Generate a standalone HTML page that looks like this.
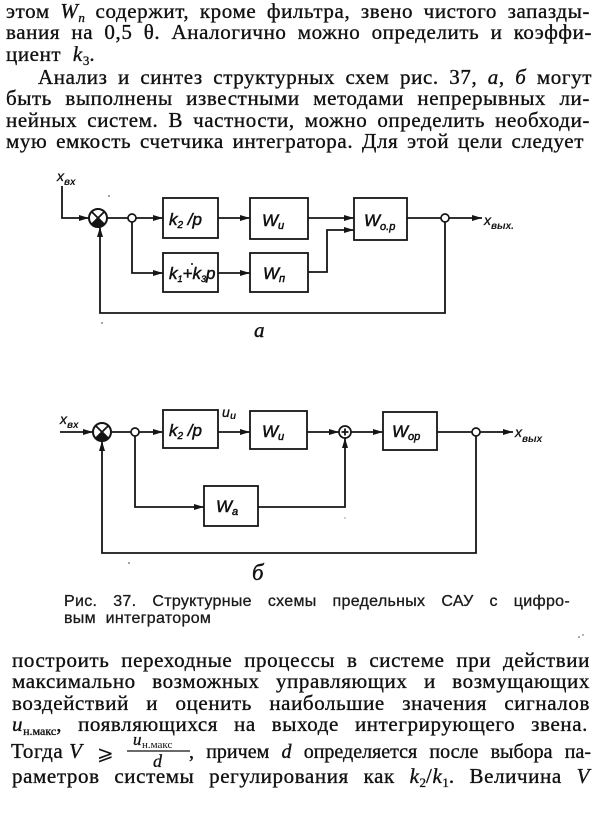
<!DOCTYPE html>
<html>
<head>
<meta charset="utf-8">
<style>
  html, body { margin:0; padding:0; }
  body { width:600px; height:817px; background:#fff; position:relative; overflow:hidden; color:#111; }
  .t { position:absolute; font-family:"Liberation Serif", "DejaVu Serif", serif; font-size:21px; line-height:21px;
       letter-spacing:0.6px; text-align:justify; text-align-last:justify; color:#111; -webkit-text-stroke:0.35px #111; }
  .l { text-align:left; text-align-last:left; }
  .sub { font-size:13px; position:relative; top:4px; line-height:0; letter-spacing:0; }
  i { font-style:italic; }
  .cap { position:absolute; font-family:"Liberation Sans", "DejaVu Sans", sans-serif; font-size:16px; line-height:16px;
         letter-spacing:0.3px; text-align:justify; text-align-last:justify; color:#1a1a1a; -webkit-text-stroke:0.3px #1a1a1a; }
  svg { position:absolute; left:0; top:0; }
  .ln { fill:none; stroke:#151515; stroke-width:1.8; }
  .bx { fill:none; stroke:#151515; stroke-width:1.8; }
  .lbl { font-family:"Liberation Sans", "DejaVu Sans", sans-serif; font-style:italic; font-size:17px; fill:#111; stroke:#111; stroke-width:0.5; }
  .sm { font-family:"Liberation Sans", "DejaVu Sans", sans-serif; font-style:italic; font-size:14px; fill:#111; stroke:#111; stroke-width:0.3; }
  .ss { font-family:"Liberation Sans", "DejaVu Sans", sans-serif; font-style:italic; font-weight:bold; font-size:10px; fill:#111; }
</style>
</head>
<body>

<!-- top paragraph -->
<div class="t" style="left:6px; top:1px; width:584px;">этом <i>W</i><span class="sub"><i>n</i></span> содержит, кроме фильтра, звено чистого запазды-</div>
<div class="t" style="left:6px; top:22px; width:586px;">вания на 0,5 θ. Аналогично можно определить и коэффи-</div>
<div class="t l" style="left:6px; top:44px; width:200px;">циент&nbsp; <i>k</i><span class="sub">3</span>.</div>
<div class="t" style="left:38px; top:67px; width:554px;">Анализ и синтез структурных схем рис. 37, <i>а</i>, <i>б</i> могут</div>
<div class="t" style="left:6px; top:88px; width:584px;">быть выполнены известными методами непрерывных ли-</div>
<div class="t" style="left:6px; top:110px; width:584px;">нейных систем. В частности, можно определить необходи-</div>
<div class="t" style="left:6px; top:131px; width:578px;">мую емкость счетчика интегратора. Для этой цели следует</div>

<svg width="600" height="817" viewBox="0 0 600 817">
  <defs>
    <marker id="ar" markerWidth="10" markerHeight="6" refX="10" refY="3" orient="auto" markerUnits="userSpaceOnUse">
      <path d="M0,0 L10,3 L0,6 z" fill="#151515"/>
    </marker>
  </defs>

  <!-- ============ Diagram a ============ -->
  <text x="57" y="181" class="sm">x</text>
  <text x="64" y="185" class="ss">вх</text>
  <path class="ln" d="M62,186 V218 H89" marker-end="url(#ar)"/>
  <circle cx="98" cy="218" r="9" fill="#fff" stroke="#151515" stroke-width="2"/>
  <path d="M98,218 L104.4,224.4 A9,9 0 0,1 91.6,224.4 Z" fill="#151515"/>
  <path class="ln" d="M91.6,211.6 L104.4,224.4 M104.4,211.6 L91.6,224.4"/>
  <path class="ln" d="M107,218 H128"/>
  <circle cx="132" cy="218" r="4" fill="#fff" stroke="#151515" stroke-width="1.7"/>
  <path class="ln" d="M136,218 H163" marker-end="url(#ar)"/>
  <rect class="bx" x="163" y="198" width="55" height="40"/>
  <text x="169" y="225" class="lbl">k<tspan font-size="10" dy="3">2</tspan><tspan dy="-3"> /p</tspan></text>
  <path class="ln" d="M218,218 H250" marker-end="url(#ar)"/>
  <rect class="bx" x="250" y="198" width="58" height="41"/>
  <text x="262" y="226" class="lbl">W<tspan font-size="11" dy="3">и</tspan></text>
  <path class="ln" d="M308,218 H354" marker-end="url(#ar)"/>
  <rect class="bx" x="354" y="198" width="53" height="42"/>
  <text x="364" y="226" class="lbl">W<tspan font-size="11" dy="4">о.р</tspan></text>
  <path class="ln" d="M407,218 H441"/>
  <circle cx="445" cy="218" r="4" fill="#fff" stroke="#151515" stroke-width="1.7"/>
  <path class="ln" d="M449,218 H482" marker-end="url(#ar)"/>
  <text x="484" y="225" class="sm">x</text>
  <text x="491" y="229" class="ss">вых.</text>
  <path class="ln" d="M445,222 V313 H100 V227" marker-end="url(#ar)"/>
  <path class="ln" d="M132,222 V273 H163" marker-end="url(#ar)"/>
  <rect class="bx" x="163" y="253" width="55" height="39"/>
  <text x="169" y="279" class="lbl" font-size="15">k<tspan font-size="9" dy="3">1</tspan><tspan dy="-3">+k</tspan><tspan font-size="9" dy="3">3</tspan><tspan dy="-3">p</tspan></text>
  <circle cx="192" cy="264" r="1" fill="#111"/>
  <path class="ln" d="M218,273 H250" marker-end="url(#ar)"/>
  <rect class="bx" x="250" y="253" width="58" height="39"/>
  <text x="263" y="279" class="lbl">W<tspan font-size="11" dy="3">п</tspan></text>
  <path class="ln" d="M308,272 H327 V230 H354" marker-end="url(#ar)"/>
  <text x="254" y="337" font-family="Liberation Serif, serif" font-style="italic" font-size="21" fill="#111" stroke="#111" stroke-width="0.4">а</text>
  <circle cx="109" cy="196" r="0.8" fill="#333"/>
  <circle cx="102" cy="323" r="0.8" fill="#333"/>

  <!-- ============ Diagram б ============ -->
  <text x="60" y="424" class="sm">x</text>
  <text x="67" y="428" class="ss">вх</text>
  <path class="ln" d="M60,432 H93" marker-end="url(#ar)"/>
  <circle cx="102" cy="432" r="9" fill="#fff" stroke="#151515" stroke-width="2"/>
  <path d="M102,432 L108.4,438.4 A9,9 0 0,1 95.6,438.4 Z" fill="#151515"/>
  <path class="ln" d="M95.6,425.6 L108.4,438.4 M108.4,425.6 L95.6,438.4"/>
  <path class="ln" d="M111,432 H131"/>
  <circle cx="135" cy="432" r="4" fill="#fff" stroke="#151515" stroke-width="1.7"/>
  <path class="ln" d="M139,432 H163" marker-end="url(#ar)"/>
  <rect class="bx" x="163" y="410" width="55" height="38"/>
  <text x="169" y="436" class="lbl">k<tspan font-size="10" dy="3">2</tspan><tspan dy="-3"> /p</tspan></text>
  <text x="222" y="417" class="sm">u</text>
  <text x="230" y="419" class="ss">и</text>
  <path class="ln" d="M218,432 H250" marker-end="url(#ar)"/>
  <rect class="bx" x="250" y="411" width="57" height="38"/>
  <text x="262" y="437" class="lbl">W<tspan font-size="11" dy="3">и</tspan></text>
  <path class="ln" d="M307,432 H339" marker-end="url(#ar)"/>
  <circle cx="345" cy="432" r="6" fill="#fff" stroke="#151515" stroke-width="1.7"/>
  <path class="ln" d="M341.5,432 H348.5 M345,428.5 V435.5" stroke-width="1.3"/>
  <path class="ln" d="M351,432 H383" marker-end="url(#ar)"/>
  <rect class="bx" x="383" y="412" width="54" height="38"/>
  <text x="392" y="437" class="lbl">W<tspan font-size="11" dy="3">ор</tspan></text>
  <path class="ln" d="M437,432 H472"/>
  <circle cx="476" cy="432" r="4" fill="#fff" stroke="#151515" stroke-width="1.7"/>
  <path class="ln" d="M480,432 H513" marker-end="url(#ar)"/>
  <text x="515" y="437" class="sm">x</text>
  <text x="522" y="442" class="ss">вых</text>
  <path class="ln" d="M476,436 V553 H102 V441" marker-end="url(#ar)"/>
  <path class="ln" d="M135,436 V507 H204" marker-end="url(#ar)"/>
  <rect class="bx" x="204" y="486" width="54" height="40"/>
  <text x="216" y="512" class="lbl">W<tspan font-size="11" dy="3">а</tspan></text>
  <path class="ln" d="M258,507 H345 V438" marker-end="url(#ar)"/>
  <text x="252" y="580" font-family="Liberation Serif, serif" font-style="italic" font-size="23" fill="#111" stroke="#111" stroke-width="0.4">б</text>
  <circle cx="129" cy="563" r="0.8" fill="#333"/>
  <circle cx="345" cy="518" r="0.6" fill="#555"/>

  <!-- ⩾ and fraction in bottom text -->
  <text x="97" y="760" font-family="DejaVu Sans, sans-serif" font-size="20" fill="#111">⩾</text>
  <text x="133" y="745" font-family="Liberation Serif, serif" font-style="italic" font-size="17" fill="#111" stroke="#111" stroke-width="0.3">u</text>
  <text x="142" y="748" font-family="Liberation Serif, serif" font-size="11" fill="#111">н.макс</text>
  <line x1="127" y1="751" x2="190" y2="751" stroke="#111" stroke-width="1.3"/>
  <text x="153" y="767" font-family="Liberation Serif, serif" font-style="italic" font-size="18" fill="#111" stroke="#111" stroke-width="0.3">d</text>

  <circle cx="579" cy="637" r="0.8" fill="#444"/>
  <circle cx="583" cy="635" r="0.7" fill="#444"/>
</svg>

<!-- caption -->
<div class="cap" style="left:64px; top:594px; width:506px;">Рис. 37. Структурные схемы предельных САУ с цифро-</div>
<div class="cap" style="left:64px; top:611px; width:300px; text-align:left; text-align-last:left; word-spacing:5px;">вым интегратором</div>

<!-- bottom paragraph -->
<div class="t" style="left:12px; top:650px; width:578px;">построить переходные процессы в системе при действии</div>
<div class="t" style="left:12px; top:671px; width:578px;">максимально возможных управляющих и возмущающих</div>
<div class="t" style="left:12px; top:693px; width:578px;">воздействий и оценить наибольшие значения сигналов</div>
<div class="t" style="left:12px; top:714px; width:576px;"><i>u</i><span class="sub" style="font-size:12px;">н.макс</span>, появляющихся на выходе интегрирующего звена.</div>
<div class="t l" style="left:11px; top:741px; width:90px;">Тогда <i>V</i></div>
<div class="t" style="left:189px; top:742px; width:402px; font-size:20px; line-height:20px; letter-spacing:0;">, причем <i>d</i> определяется после выбора па-</div>
<div class="t" style="left:12px; top:766px; width:578px;">раметров системы регулирования как <i>k</i><span class="sub">2</span>/<i>k</i><span class="sub">1</span>. Величина <i>V</i></div>

</body>
</html>
